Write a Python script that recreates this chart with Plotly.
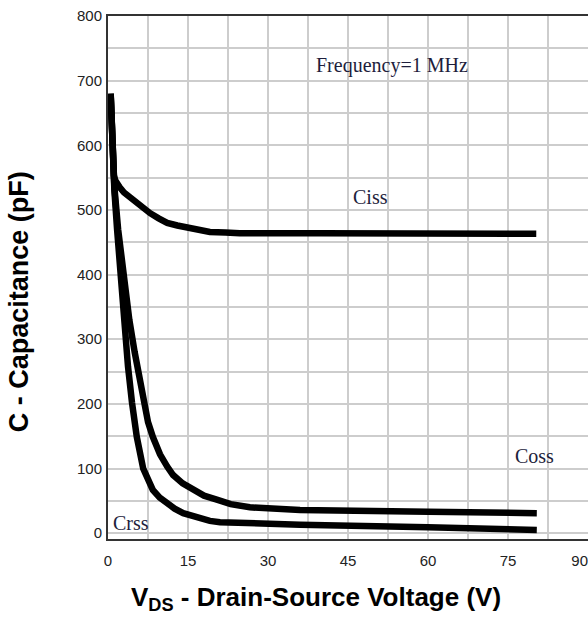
import plotly.graph_objects as go

# ---- data ----
ciss_v = [0.5, 0.6, 0.75, 0.9, 1.1, 1.4, 1.8, 2.2, 3.0, 4.0, 4.7, 6.0, 7.9, 9.5, 11.1, 13.0, 15.2, 17.0, 19.1, 22.0, 24.7, 40, 60, 80.3]
ciss_c = [678, 640, 597, 568, 553, 545, 539, 535, 527, 520, 515, 505, 495, 487, 480, 476, 472, 469, 466, 465, 464, 464, 463, 463]

coss_v = [0.5, 0.8, 1.2, 1.9, 2.9, 4.0, 5.0, 5.6, 6.6, 7.5, 8.4, 9.75, 11.1, 12.2, 14.0, 15.9, 18.0, 20.4, 23.0, 26.6, 30, 36, 60, 80.4]
coss_c = [680, 600, 535, 470, 395, 330, 280, 253, 202, 172, 149, 122, 103, 90, 77, 67, 58, 52, 45, 40, 38, 36, 33, 31]

crss_v = [0.5, 0.8, 1.2, 1.7, 2.2, 2.8, 3.75, 4.5, 5.4, 6.6, 7.5, 8.4, 9.7, 11.1, 12.5, 14.1, 16.5, 19.1, 21.0, 23.4, 36, 60, 80.4]
crss_c = [680, 600, 530, 470, 412, 352, 258, 202, 149, 100, 82, 67, 55, 46, 38, 31, 24, 19, 17, 16, 13, 9, 5]

x_ticks = [0, 15, 30, 45, 60, 75, 90]
x_ticktext = ["0", "15", "30", "45", "60", "75", "90\u2007\u2007"]
y_ticks = [0, 100, 200, 300, 400, 500, 600, 700, 800]

labels = ["Frequency=1 MHz", "Ciss", "Coss", "Crss"]
label_x = [53.3, 49.3, 80.0, 4.3]
label_y = [724, 520, 119, 16]

fig = go.Figure()
line_style = dict(color="black", width=6.5)
for name, xv, yv in [("Ciss", ciss_v, ciss_c), ("Coss", coss_v, coss_c), ("Crss", crss_v, crss_c)]:
    fig.add_trace(go.Scatter(x=xv, y=yv, mode="lines", name=name, line=line_style,
                             showlegend=False, hoverinfo="skip"))

tick_font = dict(family="Liberation Sans, Arial, sans-serif", size=15, color="#222222")
grid_col = "#cdcdcd"

fig.update_xaxes(range=[0, 90], tickvals=x_ticks, ticktext=x_ticktext, ticks="",
                 showgrid=True, gridcolor=grid_col, gridwidth=1.5,
                 minor=dict(dtick=7.5, tick0=0, showgrid=True, gridcolor=grid_col, gridwidth=1.5),
                 showline=True, linecolor="#333333", linewidth=2, mirror=True,
                 zeroline=False, tickfont=tick_font, ticklabelstandoff=7,
                 ticklabeloverflow="allow", automargin=False)
fig.update_yaxes(range=[-9, 800], tickvals=y_ticks, ticks="",
                 showgrid=True, gridcolor=grid_col, gridwidth=1.5,
                 minor=dict(dtick=50, tick0=0, showgrid=True, gridcolor=grid_col, gridwidth=1.5),
                 showline=True, linecolor="#333333", linewidth=2,
                 zeroline=False, tickfont=tick_font, ticklabelstandoff=1, automargin=False)

for t, xv, yv in zip(labels, label_x, label_y):
    fig.add_annotation(x=xv, y=yv, xref="x", yref="y", text=t, showarrow=False,
                       font=dict(family="Liberation Serif, Times New Roman, serif", size=20, color="#1e1e3c"))

fig.add_annotation(xref="paper", yref="paper", x=-0.185, y=0.453, textangle=-90,
                   text="<b>C - Capacitance (pF)</b>", showarrow=False,
                   font=dict(family="Liberation Sans, Arial, sans-serif", size=27, color="black"),
                   xanchor="center", yanchor="middle")
fig.add_annotation(xref="paper", yref="paper", x=0.433, y=-0.113,
                   text="<b>V<sub>DS</sub> - Drain-Source Voltage (V)</b>", showarrow=False,
                   font=dict(family="Liberation Sans, Arial, sans-serif", size=26, color="black"),
                   xanchor="center", yanchor="middle")

fig.update_layout(width=588, height=631, margin=dict(l=108, r=0, t=16, b=92),
                  plot_bgcolor="white", paper_bgcolor="white")

fig.write_html("out.html")
